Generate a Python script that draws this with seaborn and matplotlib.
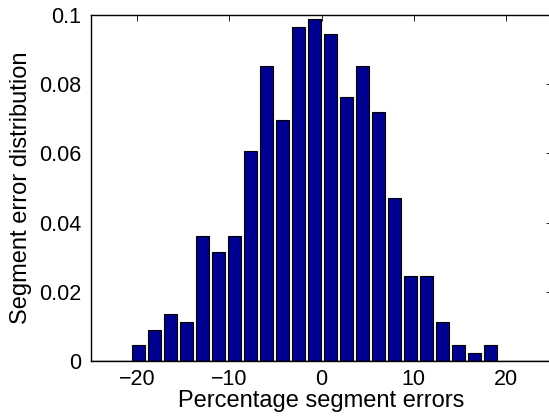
import matplotlib
matplotlib.use("Agg")
import matplotlib.pyplot as plt
import seaborn as sns
import numpy as np

# Data
bin_centers = [-19.87, -18.13, -16.40, -14.66, -12.93, -11.19, -9.46, -7.72,
               -5.99, -4.25, -2.52, -0.78, 0.95, 2.69, 4.42, 6.16, 7.89,
               9.63, 11.36, 13.10, 14.83, 16.57, 18.30]
distribution = [0.0045, 0.0090, 0.0135, 0.0112, 0.0360, 0.0315, 0.0360, 0.0607,
                0.0854, 0.0697, 0.0966, 0.0988, 0.0944, 0.0764, 0.0854, 0.0719,
                0.0472, 0.0247, 0.0247, 0.0112, 0.0045, 0.0022, 0.0045]
x_ticks = [-20, -10, 0, 10, 20]
y_ticks = [0, 0.02, 0.04, 0.06, 0.08, 0.1]
y_tick_labels = ["0", "0.02", "0.04", "0.06", "0.08", "0.1"]

sns.set_style("white")
plt.rcParams['font.family'] = ['Liberation Sans', 'DejaVu Sans']
plt.rcParams['axes.unicode_minus'] = True
plt.rcParams['text.color'] = 'black'
plt.rcParams['axes.labelcolor'] = 'black'
plt.rcParams['xtick.color'] = 'black'
plt.rcParams['ytick.color'] = 'black'

fig = plt.figure(figsize=(5.49, 4.17), dpi=100)
ax = fig.add_axes([91 / 549, 1 - 361 / 417, (552 - 91) / 549, (361 - 15) / 417])

sns.barplot(x=bin_centers, y=distribution, native_scale=True, width=0.8,
            color="#00008F", saturation=1, edgecolor="black", linewidth=0.8, ax=ax)

ax.set_xlim(-25, 25)
ax.set_ylim(0, 0.1)
ax.set_xticks(x_ticks)
ax.set_xticklabels([("\u2212" + str(abs(t))) if t < 0 else str(t) for t in x_ticks])
ax.set_yticks(y_ticks)
ax.set_yticklabels(y_tick_labels)
ax.axhline(0, color="black", linewidth=1.0)

ax.tick_params(direction="in", length=4.5, width=0.6, top=True, right=True,
               labelsize=15.5, colors="black")
ax.tick_params(axis="x", pad=6)
ax.tick_params(axis="y", pad=7)
for s in ax.spines.values():
    s.set_visible(True)
    s.set_color("black")
    s.set_linewidth(1.0)

ax.set_xlabel("Percentage segment errors", fontsize=17, labelpad=0)
ax.set_ylabel("Segment error distribution", fontsize=17, labelpad=5)

fig.savefig("out.png", dpi=100)
